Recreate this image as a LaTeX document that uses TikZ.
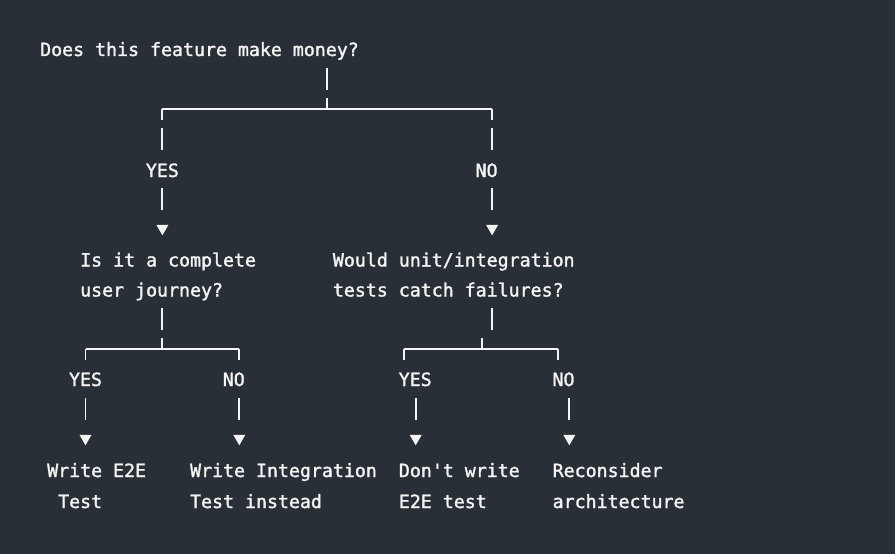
\documentclass[tikz,border=0pt]{standalone}
\usepackage{fontspec}
\newfontfamily\codefont{DejaVu Sans Mono}[FakeBold=1.6]
\usetikzlibrary{shapes.geometric}

\definecolor{slate}{HTML}{292F36}
\definecolor{chalk}{HTML}{F4F4F4}

\begin{document}
\begin{tikzpicture}[
  x=1pt, y=-1pt,
  txt/.style={anchor=base west, align=left, inner sep=0pt, text=chalk, font=\codefont\fontsize{18.25}{30}\selectfont},
  leaf/.style={txt, font=\codefont\fontsize{18.25}{31}\selectfont},
  ans/.style={anchor=base, inner sep=0pt, text=chalk, font=\codefont\fontsize{18.25}{30}\selectfont},
  bar/.style={draw=chalk, line width=1.9pt},
  rule/.style={draw=chalk, line width=1.2pt},
  tipmark/.style={regular polygon, regular polygon sides=3, shape border rotate=180, fill=chalk, inner sep=0pt, minimum size=13.8pt}
]
\fill[slate] (0,0) rectangle (895,554);

% top question
\node[txt] (money) at (40,56) {Does this feature make money?};
\coordinate (c0) at (327.3,90);
\coordinate (s0) at (327.3,109);
\coordinate (s0l) at (162.4,109);
\coordinate (s0r) at (492.1,109);
\draw[bar, shorten <=7.7pt] (money.south -| c0) -- (c0);
\draw[bar] (s0) -- ++(0,-11);
\draw[rule] (s0l) -- (s0r);
\draw[bar] (s0l) -- ++(0,11);
\draw[bar] (s0r) -- ++(0,11);

\node[ans] (yes1) at (162.4,177) {YES};
\node[ans] (no1) at (486.6,177) {NO};
\node[tipmark] (t1l) at (162.4,228.4) {};
\node[tipmark] (t1r) at (492.1,228.4) {};
\draw[bar, shorten <=19pt, shorten >=13.4pt] (s0l) -- (yes1.north);
\draw[bar, shorten <=19pt, shorten >=13.4pt] (s0r) -- (no1.north -| s0r);
\draw[bar, shorten <=11pt, shorten >=15pt] (yes1.south) -- (t1l.north);
\draw[bar, shorten <=11pt, shorten >=15pt] (no1.south -| t1r) -- (t1r.north);

% second level questions
\node[txt] (journey) at (80,296.5) {Is it a complete\\user journey?};
\node[txt] (unitint) at (332.7,296.5) {Would unit/integration\\tests catch failures?};

% left subtree
\coordinate (c2) at (162.4,330);
\coordinate (s2) at (162.4,349);
\coordinate (s2l) at (85.5,349);
\coordinate (s2r) at (239.3,349);
\draw[bar] (c2) -- ++(0,-22);
\draw[bar] (s2) -- ++(0,-11);
\draw[rule] (s2l) -- (s2r);
\draw[bar] (s2l) -- ++(0,11);
\draw[bar] (s2r) -- ++(0,11);
\node[ans] (yes2) at (85.5,386) {YES};
\node[ans] (no2) at (233.8,386) {NO};
\node[tipmark] (t2l) at (85.5,438.4) {};
\node[tipmark] (t2r) at (239.3,438.4) {};
\draw[bar, shorten <=12pt, shorten >=15pt] (yes2.south) -- (t2l.north);
\draw[bar, shorten <=12pt, shorten >=15pt] (no2.south -| t2r) -- (t2r.north);

% right subtree
\coordinate (c3) at (492.1,330);
\coordinate (s3) at (481.6,349);
\coordinate (s3l) at (404.2,349);
\coordinate (s3r) at (558.0,349);
\draw[bar] (c3) -- ++(0,-22);
\draw[bar] (s3) -- ++(0,-11);
\draw[rule] (s3l) -- (s3r);
\draw[bar] (s3l) -- ++(0,11);
\draw[bar] (s3r) -- ++(0,11);
\node[ans] (yes3) at (415.2,386) {YES};
\node[ans] (no3) at (563.5,386) {NO};
\node[tipmark] (t3l) at (415.7,438.4) {};
\node[tipmark] (t3r) at (569.3,438.4) {};
\draw[bar, shorten <=12pt, shorten >=15pt] (yes3.south -| t3l) -- (t3l.north);
\draw[bar, shorten <=12pt, shorten >=15pt] (no3.south -| t3r) -- (t3r.north);

% outcomes
\node[leaf] (e2e) at (47,508) {Write E2E\\~Test};
\node[leaf] (integ) at (189.9,508) {Write Integration\\Test instead};
\node[leaf] (skip) at (398.7,508) {Don't write\\E2E test};
\node[leaf] (rethink) at (552.5,508) {Reconsider\\architecture};
\end{tikzpicture}
\end{document}
